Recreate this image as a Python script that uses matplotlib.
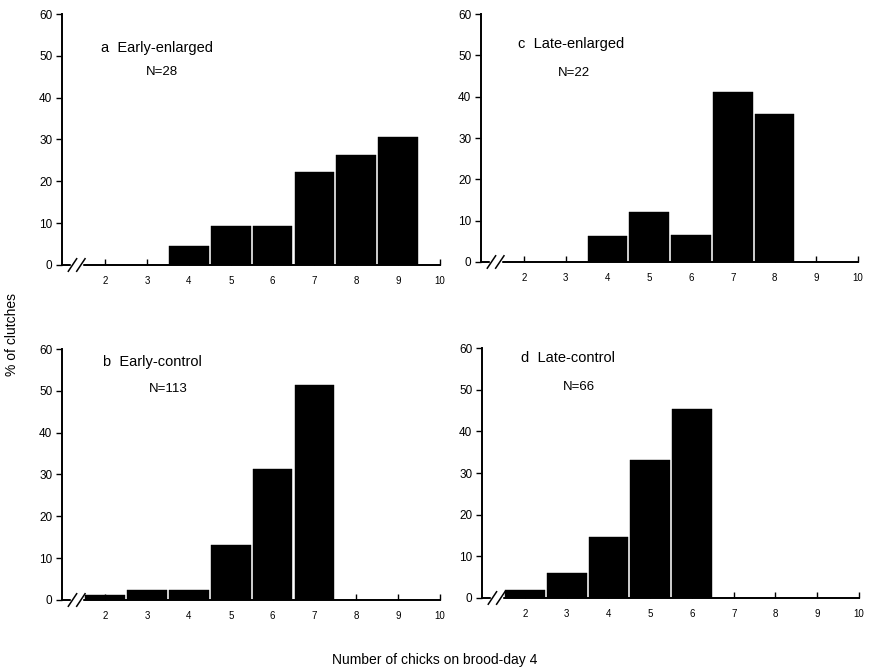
import numpy as np
import matplotlib
matplotlib.use('Agg')
import matplotlib.pyplot as plt

plt.rcParams['font.family'] = ['Liberation Sans', 'DejaVu Sans']

chicks = [2, 3, 4, 5, 6, 7, 8, 9]
early_enlarged = [0, 0, 4.5, 9.3, 9.3, 22.3, 26.4, 30.5]
early_control = [1.3, 2.3, 2.3, 13.2, 31.3, 51.3, 0, 0]
late_enlarged = [0, 0, 6.2, 12.2, 6.5, 41.2, 35.7, 0]
late_control = [1.8, 5.9, 14.6, 33.1, 45.3, 0, 0, 0]

panels = [
    ('a  Early-enlarged', 'N=28', early_enlarged, [0.0713, 0.6045, 0.4345, 0.3746], (1.9, 51), (3.35, 45.5)),
    ('b  Early-control', 'N=113', early_control, [0.0713, 0.1045, 0.4345, 0.3746], (1.95, 56), (3.5, 49.8)),
    ('c  Late-enlarged', 'N=22', late_enlarged, [0.5529, 0.609, 0.4333, 0.370], (1.85, 51.8), (3.2, 45)),
    ('d  Late-control', 'N=66', late_control, [0.554, 0.1075, 0.4333, 0.373], (1.9, 56.6), (3.3, 49.9)),
]

fig = plt.figure(figsize=(8.7, 6.7), dpi=100)

for title, ntext, vals, pos, tpos, npos in panels:
    ax = fig.add_axes(pos)
    ax.bar(chicks, vals, width=0.95, color='black', edgecolor='black', linewidth=0.3)
    ax.set_xlim(0.97, 10)
    ax.set_ylim(0, 60)
    ax.set_xticks(range(2, 11))
    ax.set_yticks(range(0, 61, 10))
    ax.spines['top'].set_visible(False)
    ax.spines['right'].set_visible(False)
    ax.spines['left'].set_linewidth(1.4)
    ax.spines['bottom'].set_linewidth(1.4)
    ax.tick_params(axis='x', direction='in', length=4, width=1, labelsize=7, pad=8)
    ax.tick_params(axis='y', direction='out', length=4, width=1, labelsize=8.5, pad=3)
    # axis break marks
    ax.plot([1.22, 1.42], [0, 0], color='white', lw=2.5, clip_on=False, zorder=5)
    for xb in [1.22, 1.42]:
        ax.plot([xb - 0.1, xb + 0.1], [-1.5, 1.5], color='black', lw=1.1, clip_on=False, zorder=6)
    ax.text(tpos[0], tpos[1], title, fontsize=10.5)
    ax.text(npos[0], npos[1], ntext, fontsize=9.5, ha='center')

fig.text(0.014, 0.5, '% of clutches', rotation=90, va='center', ha='center', fontsize=10)
fig.text(0.5, 0.015, 'Number of chicks on brood-day 4', ha='center', va='center', fontsize=10)

fig.savefig('out.png', dpi=100)
